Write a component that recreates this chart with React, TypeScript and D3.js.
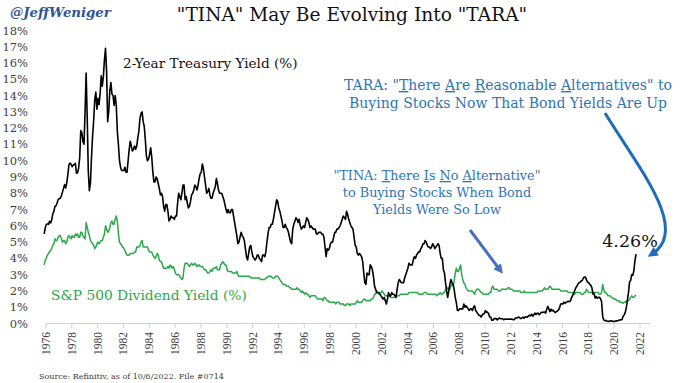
import React from 'react';
import * as d3 from 'd3';

const W = 680;
const H = 383;

// Monthly series, first value = December 1976
const SERIES_START_YEAR = 1976;
const SERIES_START_MONTH = 12;
// the chart's year labels sit ~1.1 years after the data's own dates
const AXIS_LAG = 1.1;

const X_TICKS = [1976, 1978, 1980, 1982, 1984, 1986, 1988, 1990, 1992, 1994, 1996, 1998, 2000, 2002, 2004, 2006, 2008, 2010, 2012, 2014, 2016, 2018, 2020, 2022];
const Y_TICKS = [0, 1, 2, 3, 4, 5, 6, 7, 8, 9, 10, 11, 12, 13, 14, 15, 16, 17, 18];

const treasury2y = [
  5.50,
  5.88, 6.09, 6.12, 6.09, 6.28, 6.18, 6.36, 6.73, 6.89, 7.19, 7.23, 7.40,
  7.61, 7.67, 7.70, 7.85, 8.07, 8.30, 8.54, 8.33, 8.64, 9.14, 9.75, 9.86,
  9.80, 9.63, 9.73, 9.78, 9.84, 9.23, 9.26, 9.52, 10.19, 11.85, 11.75, 11.18,
  11.01, 13.00, 15.39, 12.65, 9.35, 8.16, 8.65, 10.24, 11.52, 12.49, 13.75, 14.22,
  13.16, 13.83, 13.44, 14.13, 15.22, 14.58, 15.18, 16.18, 16.90, 15.50, 12.40, 13.04,
  14.30, 14.80, 14.10, 14.00, 13.40, 14.00, 13.40, 11.80, 11.00, 10.00, 9.60, 9.40,
  9.40, 9.40, 9.60, 9.30, 9.30, 10.00, 10.70, 11.20, 10.90, 10.60, 10.70, 10.90,
  10.70, 10.90, 11.40, 11.80, 12.60, 12.90, 13.00, 12.40, 12.10, 11.30, 10.30, 10.00,
  10.10, 10.40, 10.80, 10.20, 9.30, 8.70, 8.70, 9.00, 8.90, 8.60, 8.30, 7.90,
  8.00, 7.80, 7.20, 6.90, 7.30, 7.30, 6.90, 6.30, 6.40, 6.60, 6.50, 6.50,
  6.40, 6.60, 6.60, 7.40, 8.00, 7.80, 7.60, 8.00, 8.50, 8.50, 7.60, 7.80,
  7.40, 7.10, 7.20, 7.50, 7.90, 8.00, 8.20, 8.50, 8.40, 8.20, 8.50, 8.90,
  9.20, 9.30, 9.80, 9.50, 9.00, 8.50, 8.00, 8.10, 8.30, 7.90, 7.70, 7.70,
  8.00, 8.20, 8.40, 8.90, 8.60, 8.20, 8.00, 8.00, 8.00, 7.80, 7.60, 7.30,
  7.00, 6.80, 7.00, 6.80, 6.80, 7.00, 7.00, 6.60, 6.20, 5.80, 5.40, 4.90,
  5.00, 5.30, 5.60, 5.40, 5.30, 5.10, 4.60, 4.10, 3.90, 4.30, 4.70, 4.80,
  4.40, 4.10, 4.00, 3.90, 4.00, 4.20, 4.20, 4.00, 3.90, 3.80, 4.20, 4.20,
  4.10, 4.40, 5.00, 5.50, 5.90, 5.90, 6.10, 6.10, 6.40, 6.80, 7.20, 7.60,
  7.50, 7.10, 6.90, 6.60, 6.30, 5.90, 5.90, 6.10, 5.90, 5.80, 5.60, 5.30,
  5.00, 4.90, 5.80, 6.10, 6.30, 6.50, 6.40, 6.20, 6.40, 6.00, 5.80, 5.90,
  6.00, 5.90, 6.20, 6.50, 6.40, 6.20, 5.90, 6.00, 5.90, 5.80, 5.80, 5.80,
  5.50, 5.50, 5.60, 5.60, 5.60, 5.50, 5.50, 5.30, 4.70, 4.10, 4.60, 4.50,
  4.60, 4.90, 5.00, 5.00, 5.30, 5.60, 5.60, 5.80, 5.80, 5.90, 6.00, 6.20,
  6.40, 6.60, 6.50, 6.40, 6.90, 6.70, 6.40, 6.20, 6.00, 5.90, 5.80, 5.30,
  4.80, 4.70, 4.30, 4.20, 4.30, 4.20, 4.10, 3.80, 3.10, 2.50, 2.40, 3.10,
  3.00, 3.00, 3.60, 3.50, 3.30, 2.90, 2.30, 2.10, 1.90, 1.90, 1.90, 1.80,
  1.70, 1.60, 1.50, 1.60, 1.40, 1.20, 1.50, 1.90, 1.70, 1.70, 1.90, 1.80,
  1.80, 1.70, 1.60, 2.10, 2.50, 2.70, 2.60, 2.50, 2.50, 2.50, 2.80, 3.00,
  3.20, 3.40, 3.70, 3.60, 3.60, 3.60, 3.90, 4.10, 4.00, 4.20, 4.30, 4.40,
  4.40, 4.60, 4.70, 4.90, 4.90, 5.10, 5.00, 4.80, 4.70, 4.70, 4.60, 4.70,
  4.90, 4.80, 4.60, 4.70, 4.80, 4.90, 4.80, 4.30, 4.00, 4.00, 3.30, 3.10,
  2.50, 2.00, 1.60, 2.00, 2.40, 2.70, 2.50, 2.40, 2.10, 1.60, 1.30, 0.80,
  0.80, 0.90, 0.90, 0.90, 0.90, 1.20, 1.00, 1.10, 1.00, 0.90, 0.80, 0.90,
  0.90, 0.80, 1.00, 1.10, 0.80, 0.70, 0.60, 0.50, 0.50, 0.40, 0.50, 0.60,
  0.60, 0.80, 0.70, 0.70, 0.60, 0.40, 0.40, 0.20, 0.20, 0.30, 0.30, 0.30,
  0.22, 0.28, 0.34, 0.29, 0.29, 0.29, 0.23, 0.27, 0.26, 0.28, 0.27, 0.26,
  0.27, 0.27, 0.26, 0.23, 0.25, 0.33, 0.34, 0.36, 0.40, 0.34, 0.30, 0.34,
  0.39, 0.33, 0.40, 0.42, 0.39, 0.45, 0.51, 0.47, 0.57, 0.45, 0.54, 0.64,
  0.55, 0.62, 0.64, 0.54, 0.61, 0.69, 0.67, 0.70, 0.71, 0.64, 0.88, 1.06,
  0.90, 0.73, 0.88, 0.77, 0.82, 0.73, 0.67, 0.74, 0.77, 0.84, 0.98, 1.20,
  1.21, 1.20, 1.31, 1.24, 1.30, 1.34, 1.37, 1.34, 1.38, 1.58, 1.71, 1.84,
  2.03, 2.18, 2.28, 2.42, 2.51, 2.53, 2.61, 2.65, 2.78, 2.86, 2.86, 2.68,
  2.54, 2.50, 2.41, 2.34, 2.21, 1.81, 1.84, 1.57, 1.65, 1.55, 1.61, 1.61,
  1.52, 1.33, 0.45, 0.22, 0.17, 0.19, 0.14, 0.14, 0.13, 0.15, 0.17, 0.13,
  0.13, 0.12, 0.15, 0.16, 0.16, 0.20, 0.22, 0.22, 0.24, 0.44, 0.53, 0.68,
  0.98, 1.44, 1.91, 2.54, 2.65, 3.00, 2.96, 3.24, 3.86, 4.26,
];

const dividendYield = [
  3.6,
  3.9, 4.0, 4.2, 4.3, 4.4, 4.5, 4.6, 4.8, 4.9, 5.2, 5.1, 5.1,
  5.3, 5.4, 5.4, 5.2, 5.0, 5.1, 5.1, 4.9, 5.0, 5.3, 5.4, 5.3,
  5.2, 5.4, 5.3, 5.3, 5.5, 5.4, 5.5, 5.3, 5.3, 5.6, 5.6, 5.4,
  5.3, 5.2, 6.2, 5.9, 5.6, 5.4, 5.1, 5.0, 4.9, 4.8, 4.6, 4.7,
  4.9, 5.0, 4.9, 5.0, 5.1, 5.1, 5.3, 5.5, 6.0, 5.8, 5.6, 5.7,
  5.9, 6.2, 6.3, 6.1, 6.1, 6.4, 6.6, 6.3, 5.5, 5.0, 4.9, 4.8,
  4.7, 4.6, 4.5, 4.3, 4.2, 4.2, 4.2, 4.3, 4.3, 4.3, 4.3, 4.4,
  4.4, 4.7, 4.7, 4.7, 4.8, 5.0, 5.1, 4.7, 4.7, 4.7, 4.7, 4.7,
  4.5, 4.4, 4.4, 4.4, 4.2, 4.1, 4.0, 4.1, 4.3, 4.2, 3.9, 3.8,
  3.8, 3.6, 3.4, 3.4, 3.4, 3.4, 3.5, 3.4, 3.6, 3.5, 3.4, 3.5,
  3.3, 3.1, 3.0, 3.0, 3.0, 2.9, 2.8, 2.7, 2.8, 3.4, 3.7, 3.7,
  3.7, 3.6, 3.5, 3.6, 3.7, 3.6, 3.6, 3.7, 3.6, 3.5, 3.6, 3.6,
  3.5, 3.5, 3.5, 3.4, 3.3, 3.3, 3.2, 3.1, 3.1, 3.2, 3.3, 3.2,
  3.4, 3.4, 3.4, 3.5, 3.3, 3.3, 3.3, 3.6, 3.7, 3.8, 3.7, 3.6,
  3.6, 3.3, 3.2, 3.2, 3.2, 3.2, 3.1, 3.1, 3.1, 3.1, 3.2, 3.0,
  2.9, 2.9, 2.9, 2.9, 2.9, 2.9, 2.9, 2.9, 2.9, 2.9, 2.9, 2.8,
  2.8, 2.8, 2.8, 2.8, 2.8, 2.8, 2.8, 2.8, 2.7, 2.7, 2.7, 2.7,
  2.7, 2.8, 2.8, 2.9, 2.9, 2.9, 2.9, 2.8, 2.8, 2.8, 2.9, 2.9,
  2.9, 2.8, 2.7, 2.6, 2.5, 2.4, 2.4, 2.4, 2.3, 2.3, 2.3, 2.2,
  2.2, 2.1, 2.1, 2.1, 2.1, 2.1, 2.2, 2.1, 2.1, 2.0, 1.9, 2.0,
  1.9, 1.8, 1.9, 1.8, 1.8, 1.7, 1.6, 1.7, 1.7, 1.7, 1.7, 1.7,
  1.6, 1.5, 1.5, 1.5, 1.5, 1.5, 1.4, 1.6, 1.6, 1.5, 1.4, 1.4,
  1.3, 1.3, 1.3, 1.3, 1.3, 1.3, 1.2, 1.3, 1.3, 1.3, 1.2, 1.2,
  1.2, 1.2, 1.1, 1.1, 1.2, 1.2, 1.2, 1.1, 1.2, 1.2, 1.2, 1.2,
  1.2, 1.3, 1.4, 1.3, 1.3, 1.3, 1.3, 1.4, 1.5, 1.5, 1.4, 1.4,
  1.4, 1.4, 1.4, 1.5, 1.5, 1.6, 1.8, 1.8, 2.0, 1.9, 1.8, 1.9,
  1.9, 2.0, 1.9, 1.8, 1.7, 1.7, 1.7, 1.7, 1.7, 1.6, 1.6, 1.6,
  1.6, 1.6, 1.7, 1.7, 1.7, 1.7, 1.8, 1.8, 1.8, 1.8, 1.8, 1.8,
  1.8, 1.8, 1.9, 1.9, 1.9, 1.9, 1.9, 1.9, 1.9, 1.9, 1.9, 1.8,
  1.8, 1.8, 1.8, 1.8, 1.9, 1.9, 1.9, 1.8, 1.8, 1.8, 1.8, 1.8,
  1.8, 1.8, 1.8, 1.8, 1.7, 1.8, 1.8, 1.9, 1.8, 1.8, 1.9, 1.9,
  2.1, 2.1, 2.2, 2.1, 2.1, 2.3, 2.4, 2.3, 2.6, 3.1, 3.4, 3.2,
  3.2, 3.4, 3.6, 3.0, 2.7, 2.5, 2.4, 2.2, 2.1, 2.0, 2.0, 2.0,
  2.0, 2.0, 1.9, 1.8, 2.0, 2.1, 2.1, 2.1, 2.0, 1.9, 1.9, 1.8,
  1.8, 1.8, 1.8, 1.8, 1.8, 1.9, 1.9, 2.2, 2.3, 2.1, 2.1, 2.1,
  2.1, 2.0, 2.0, 2.0, 2.1, 2.1, 2.1, 2.1, 2.1, 2.1, 2.2, 2.2,
  2.1, 2.1, 2.1, 2.0, 2.0, 2.0, 2.0, 2.0, 2.0, 2.0, 1.9, 1.9,
  1.9, 2.0, 1.9, 1.9, 1.9, 1.9, 1.9, 1.9, 1.9, 1.9, 1.9, 1.9,
  1.9, 1.9, 2.0, 2.0, 2.0, 2.0, 2.0, 2.1, 2.2, 2.1, 2.1, 2.1,
  2.2, 2.3, 2.2, 2.1, 2.1, 2.1, 2.1, 2.1, 2.1, 2.1, 2.1, 2.0,
  2.0, 2.0, 2.0, 2.0, 2.0, 2.0, 1.9, 1.9, 1.9, 1.9, 1.9, 1.8,
  1.8, 1.9, 1.9, 1.9, 1.9, 1.9, 1.8, 1.8, 1.8, 1.9, 1.9, 2.1,
  2.0, 1.9, 1.9, 1.9, 1.9, 1.9, 1.9, 1.9, 1.9, 1.9, 1.9, 1.8,
  1.8, 1.9, 2.4, 2.1, 1.9, 1.9, 1.8, 1.7, 1.7, 1.7, 1.6, 1.6,
  1.5, 1.5, 1.5, 1.4, 1.4, 1.4, 1.3, 1.3, 1.3, 1.25, 1.3, 1.3,
  1.4, 1.4, 1.4, 1.5, 1.6, 1.7, 1.6, 1.6, 1.7, 1.75,
];

type Pt = { t: number; v: number };
const toPoints = (vals: number[]): Pt[] =>
  vals.map((v, i) => ({
    t: SERIES_START_YEAR + (SERIES_START_MONTH - 1 + i + 0.5) / 12,
    v,
  }));

const SERIF = "'DejaVu Serif', serif";
const BLUE = '#2e75b6';
const GREEN = '#2aa84a';

export default function App() {
  const x = d3.scaleLinear().domain([1976, 2022]).range([46, 640]);
  const y = d3.scaleLinear().domain([0, 18]).range([323.5, 30.5]);
  const line = d3
    .line<Pt>()
    .x((d) => x(d.t - AXIS_LAG))
    .y((d) => y(d.v))
    .curve(d3.curveLinear);

  const tPts = toPoints(treasury2y);
  const tPath = line(tPts) || '';
  const dPath = line(toPoints(dividendYield)) || '';
  const lastT = tPts[tPts.length - 1];

  return (
    <svg
      width={W}
      height={H}
      viewBox={`0 0 ${W} ${H}`}
      style={{ position: 'absolute', left: 0, top: 0, background: '#fff' }}
    >
      <defs>
        <marker id="ahTina" viewBox="0 0 10 10" refX="5" refY="5" markerWidth="3.2" markerHeight="3.2" orient="auto">
          <path d="M0,0 L10,5 L0,10 z" fill="#4a6fc0" />
        </marker>
        <marker id="ahTara" viewBox="0 0 10 10" refX="5" refY="5" markerWidth="3.4" markerHeight="3.4" orient="auto">
          <path d="M0,0 L10,5 L0,10 z" fill="#1f6cba" />
        </marker>
      </defs>
      <rect x={0} y={0} width={W} height={H} fill="#fff" />

      {/* header */}
      <text x={10} y={17} fontFamily={SERIF} fontStyle="italic" fontWeight="bold" fontSize={13.3} fill="#2f5597">
        @JeffWeniger
      </text>
      <text x={352} y={21} textAnchor="middle" fontFamily={SERIF} fontSize={18.6} fill="#111">
        "TINA" May Be Evolving Into "TARA"
      </text>

      {/* y axis labels */}
      {Y_TICKS.map((t) => (
        <text key={t} x={28} y={y(t) + 4} textAnchor="end" fontFamily={SERIF} fontSize={11.5} fill="#404040">
          {t}%
        </text>
      ))}

      {/* x axis */}
      <line x1={46} x2={650} y1={323.5} y2={323.5} stroke="#d0d0d0" strokeWidth={1} />
      {X_TICKS.map((t) => (
        <g key={t}>
          <line x1={x(t)} x2={x(t)} y1={323.5} y2={328} stroke="#d0d0d0" strokeWidth={1} />
          <text
            transform={`translate(${x(t) + 4},${332}) rotate(-90)`}
            textAnchor="end"
            fontFamily="'Liberation Serif', serif"
            fontSize={11.5}
            fill="#404040"
          >
            {t}
          </text>
        </g>
      ))}

      {/* series */}
      <path d={dPath} fill="none" stroke={GREEN} strokeWidth={1.5} strokeLinejoin="round" />
      <path d={tPath} fill="none" stroke="#000" strokeWidth={1.6} strokeLinejoin="round" />

      {/* series labels */}
      <text x={123} y={68} fontFamily={SERIF} fontSize={13.6} fill="#111">
        2-Year Treasury Yield (%)
      </text>
      <text x={51} y={300} fontFamily={SERIF} fontSize={13.8} fill={GREEN}>
        S&amp;P 500 Dividend Yield (%)
      </text>
      <text x={x(lastT.t - AXIS_LAG) - 6} y={247} textAnchor="middle" fontFamily={SERIF} fontSize={17.5} fill="#111">
        {lastT.v.toFixed(2)}%
      </text>

      {/* TARA annotation */}
      <g fontFamily={SERIF} fontSize={14} fill={BLUE} textAnchor="middle">
        <text x={508} y={90}>
          TARA: "<tspan textDecoration="underline">T</tspan>here <tspan textDecoration="underline">A</tspan>re{' '}
          <tspan textDecoration="underline">R</tspan>easonable <tspan textDecoration="underline">A</tspan>lternatives" to
        </text>
        <text x={508} y={108}>Buying Stocks Now That Bond Yields Are Up</text>
      </g>

      {/* TINA annotation */}
      <g fontFamily={SERIF} fontSize={12.8} fill={BLUE} textAnchor="middle">
        <text x={437} y={180}>
          "TINA: <tspan textDecoration="underline">T</tspan>here <tspan textDecoration="underline">I</tspan>s{' '}
          <tspan textDecoration="underline">N</tspan>o <tspan textDecoration="underline">A</tspan>lternative"
        </text>
        <text x={437} y={197}>to Buying Stocks When Bond</text>
        <text x={437} y={214}>Yields Were So Low</text>
      </g>

      {/* arrows */}
      <path d="M470,230 L500,270" stroke="#4a6fc0" strokeWidth={3} fill="none" markerEnd="url(#ahTina)" />
      <path d="M605,113 C640,170 690,230 652,254" stroke="#1f6cba" strokeWidth={3} fill="none" markerEnd="url(#ahTara)" />

      {/* source */}
      <text x={39} y={379} fontFamily={SERIF} fontSize={8} fill="#404040">
        Source: Refinitiv, as of 10/6/2022. File #0714
      </text>
    </svg>
  );
}
